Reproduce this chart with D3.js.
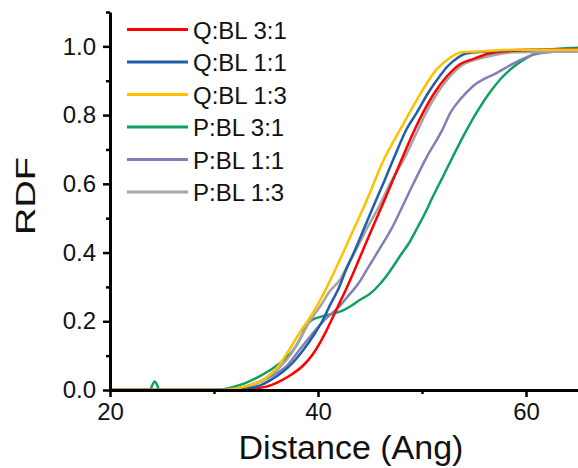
<!DOCTYPE html>
<html>
<head>
<meta charset="utf-8">
<script src="https://cdn.jsdelivr.net/npm/d3@7"></script>
<style>
  body { margin: 0; background: #fff; }
  svg { display: block; font-family: "Liberation Sans", Arial, sans-serif; }
</style>
</head>
<body>
<div id="chart"></div>
<script>
// series: [distance, rdf]
const qbl31 = [[20,0],[32.5,0],[34,0.004],[35.5,0.014],[36.5,0.028],[37.6,0.048],[38.6,0.072],[39.5,0.104],[40.2,0.138],[40.8,0.172],[41.4,0.21],[42.1,0.255],[42.8,0.3],[43.6,0.355],[44.5,0.42],[45.5,0.49],[46.5,0.56],[47.4,0.625],[48.1,0.675],[49.3,0.758],[50.1,0.807],[51.2,0.865],[52.4,0.913],[53.65,0.948],[54.9,0.963],[56.2,0.977],[58.1,0.986],[61,0.99],[65,0.992]];
const qbl11 = [[20,0],[31.5,0],[33,0.004],[34.5,0.014],[35.5,0.03],[36.5,0.05],[37.6,0.08],[38.6,0.117],[39.6,0.16],[40.4,0.2],[41.2,0.25],[41.9,0.29],[42.7,0.35],[43.6,0.41],[44.5,0.475],[45.4,0.54],[46.4,0.61],[47.3,0.675],[48.5,0.758],[49.5,0.807],[50.6,0.865],[51.7,0.913],[52.4,0.94],[53,0.957],[53.8,0.974],[54.9,0.982],[57,0.986],[60,0.99],[65,0.99]];
const qbl13 = [[20,0],[30.5,0],[32,0.004],[33.5,0.014],[35,0.035],[36.2,0.07],[37.3,0.12],[38.3,0.17],[39.1,0.205],[39.9,0.245],[40.7,0.29],[41.5,0.34],[42.5,0.405],[43.4,0.466],[44.3,0.525],[45,0.575],[46.4,0.675],[47.9,0.758],[48.8,0.807],[50.1,0.875],[51.4,0.933],[52.7,0.967],[53.8,0.983],[56,0.986],[58.8,0.99],[65,0.99]];
const pbl31 = [[20,0],[23.8,0],[24.3,0.025],[24.8,0],[30.5,0],[31.5,0.006],[33,0.02],[34.5,0.042],[35.7,0.064],[36.8,0.09],[37.6,0.115],[38.3,0.15],[38.9,0.19],[39.5,0.205],[40.5,0.215],[41.4,0.222],[42.3,0.23],[43.2,0.245],[44,0.262],[45,0.28],[46,0.31],[46.9,0.345],[48,0.395],[48.8,0.43],[49.6,0.475],[50.3,0.515],[51,0.56],[52,0.62],[52.9,0.675],[54,0.74],[55.3,0.81],[56.5,0.865],[57.8,0.913],[59,0.945],[60.1,0.967],[61,0.982],[62,0.99],[63.5,0.994],[65,0.996]];
const pbl11 = [[20,0],[31,0],[32.5,0.005],[34,0.018],[35.5,0.04],[37,0.07],[38.3,0.12],[39.5,0.165],[40.5,0.2],[42.1,0.245],[42.8,0.27],[44,0.315],[44.7,0.35],[46,0.415],[46.9,0.46],[47.9,0.52],[49,0.59],[50.4,0.675],[52,0.76],[52.7,0.805],[53.8,0.85],[54.9,0.884],[57.2,0.923],[59.1,0.955],[61,0.978],[63.3,0.985],[65,0.986]];
const pbl13 = [[20,0],[30.5,0],[32,0.004],[33.5,0.015],[35,0.035],[36.3,0.065],[37.3,0.1],[38.3,0.15],[39.2,0.2],[40.2,0.243],[41.2,0.29],[42.1,0.32],[42.8,0.36],[43.7,0.41],[44.7,0.47],[45.8,0.53],[47,0.605],[48.4,0.68],[49.5,0.75],[50.4,0.807],[51.5,0.865],[52.7,0.913],[54,0.948],[55.6,0.965],[57,0.975],[58.8,0.983],[65,0.985]];

const names = ["Q:BL 3:1", "Q:BL 1:1", "Q:BL 1:3", "P:BL 3:1", "P:BL 1:1", "P:BL 1:3"];
const colors = ["#ff0000", "#1f5fa8", "#ffc000", "#10a060", "#8080b8", "#a5a5a5"];
const seriesData = [qbl31, qbl11, qbl13, pbl31, pbl11, pbl13];

const xMajor = [20, 40, 60];
const xMinor = [30, 50];
const yMajor = [0, 0.2, 0.4, 0.6, 0.8, 1.0];
const yMinor = [0.1, 0.3, 0.5, 0.7, 0.9, 1.1];

const W = 578, H = 468;
const svg = d3.select("#chart").append("svg").attr("width", W).attr("height", H);

const x = d3.scaleLinear().domain([20, 65]).range([110, 578]);
const y = d3.scaleLinear().domain([0, 1.1]).range([390, 12]);

// curves (drawn first so the axes sit on top)
const line = d3.line().x(d => x(d[0])).y(d => y(d[1])).curve(d3.curveMonotoneX);
const drawOrder = [3, 4, 5, 0, 1, 2];
drawOrder.forEach(i => {
  svg.append("path")
    .datum(seriesData[i])
    .attr("fill", "none")
    .attr("stroke", colors[i])
    .attr("stroke-width", 2.5)
    .attr("stroke-linejoin", "round")
    .attr("d", line);
});

// x axis
const gx = svg.append("g").attr("transform", "translate(0,390)");
gx.call(d3.axisBottom(x).tickValues(xMajor).tickFormat(d3.format("d")).tickSize(7).tickPadding(6).tickSizeOuter(0));
gx.append("g").call(d3.axisBottom(x).tickValues(xMinor).tickFormat("").tickSize(4).tickSizeOuter(0))
  .select(".domain").remove();

// y axis
const gy = svg.append("g").attr("transform", "translate(110,0)");
gy.call(d3.axisLeft(y).tickValues(yMajor).tickFormat(d3.format(".1f")).tickSize(7).tickPadding(7).tickSizeOuter(0));
gy.append("g").call(d3.axisLeft(y).tickValues(yMinor).tickFormat("").tickSize(4).tickSizeOuter(0))
  .select(".domain").remove();

svg.selectAll(".domain").attr("stroke", "#000").attr("stroke-width", 3);
svg.selectAll(".tick line").attr("stroke", "#000").attr("stroke-width", 2.5);
svg.selectAll(".tick text").attr("font-size", 24).attr("fill", "#111")
  .attr("font-family", "'Liberation Sans', Arial, sans-serif");

// axis titles
svg.append("text")
  .attr("transform", "translate(35,196) rotate(-90)")
  .attr("text-anchor", "middle")
  .attr("font-size", 28)
  .attr("textLength", 78)
  .attr("lengthAdjust", "spacingAndGlyphs")
  .attr("fill", "#111")
  .text("RDF");

svg.append("text")
  .attr("x", 351)
  .attr("y", 459)
  .attr("text-anchor", "middle")
  .attr("font-size", 34)
  .attr("fill", "#111")
  .text("Distance (Ang)");

// legend
const legend = svg.append("g");
names.forEach((n, i) => {
  const ly = 29.5 + i * 32.5;
  legend.append("line")
    .attr("x1", 127).attr("x2", 188)
    .attr("y1", ly).attr("y2", ly)
    .attr("stroke", colors[i]).attr("stroke-width", 3);
  legend.append("text")
    .attr("x", 193).attr("y", ly + 9)
    .attr("font-size", 24)
    .attr("fill", "#111")
    .text(n);
});
</script>
</body>
</html>
